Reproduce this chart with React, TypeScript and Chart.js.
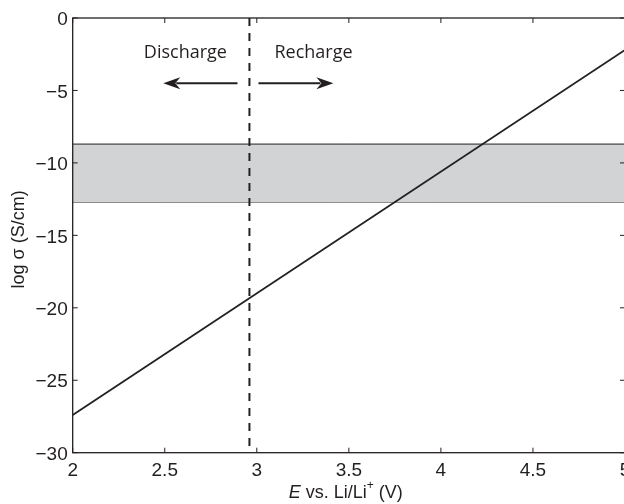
import React, { useEffect, useRef } from 'react';
import { Chart, registerables } from 'chart.js';

Chart.register(...registerables);

// ---- data ----
const xTicks = [2, 2.5, 3, 3.5, 4, 4.5, 5];
const yTicks = [0, -5, -10, -15, -20, -25, -30];
const lineE = [2, 5];
const lineLogSigma = [-27.4, -2.2];
const bandE = [2, 5];
const bandUpper = [-8.7, -8.7];
const bandLower = [-12.7, -12.7];
const dividerE = [2.96, 2.96];
const dividerLogSigma = [0, -30];
const labelTexts = ['Discharge', 'Recharge'];
const labelE = [2.612, 3.308];
const labelLogSigma = [-2.42, -2.42];
const arrowFromE = [2.895, 3.009];
const arrowToE = [2.492, 3.416];
const arrowLogSigma = [-4.5, -4.5];

const INK = '#231f20';
const TICK_FONT = '"Liberation Sans", Arial, Helvetica, sans-serif';
const NOTE_FONT = '"Open Sans", "Noto Sans", sans-serif';

const fmt = (v: number) => (v < 0 ? '\u2212' + Math.abs(v) : String(v));

const decorPlugin = {
  id: 'decor',
  afterDraw(chart: any) {
    const { ctx, chartArea: ca } = chart;
    const xs = chart.scales.x;
    const ys = chart.scales.y;
    ctx.save();
    // frame
    ctx.strokeStyle = INK;
    ctx.lineWidth = 1.3;
    ctx.strokeRect(ca.left, ca.top, ca.right - ca.left, ca.bottom - ca.top);
    // inward ticks
    const tl = 5;
    ctx.lineWidth = 1;
    ctx.beginPath();
    xTicks.forEach((v) => {
      const px = xs.getPixelForValue(v);
      ctx.moveTo(px, ca.bottom);
      ctx.lineTo(px, ca.bottom - tl);
      ctx.moveTo(px, ca.top);
      ctx.lineTo(px, ca.top + tl);
    });
    yTicks.forEach((v) => {
      const py = ys.getPixelForValue(v);
      ctx.moveTo(ca.left, py);
      ctx.lineTo(ca.left + tl, py);
      ctx.moveTo(ca.right, py);
      ctx.lineTo(ca.right - tl, py);
    });
    ctx.stroke();

    // annotation labels
    ctx.fillStyle = INK;
    ctx.font = `18px ${NOTE_FONT}`;
    ctx.textAlign = 'center';
    ctx.textBaseline = 'middle';
    labelTexts.forEach((t, i) => {
      ctx.fillText(t, xs.getPixelForValue(labelE[i]), ys.getPixelForValue(labelLogSigma[i]));
    });

    // arrows
    arrowFromE.forEach((fe, i) => {
      const x0 = xs.getPixelForValue(fe);
      const x1 = xs.getPixelForValue(arrowToE[i]);
      const y = ys.getPixelForValue(arrowLogSigma[i]);
      const dir = x1 > x0 ? 1 : -1;
      const hl = 17;
      const hw = 6;
      ctx.lineWidth = 2;
      ctx.beginPath();
      ctx.moveTo(x0, y);
      ctx.lineTo(x1 - dir * (hl - 4), y);
      ctx.stroke();
      ctx.beginPath();
      ctx.moveTo(x1, y);
      ctx.lineTo(x1 - dir * hl, y - hw);
      ctx.lineTo(x1 - dir * (hl - 5), y);
      ctx.lineTo(x1 - dir * hl, y + hw);
      ctx.closePath();
      ctx.fill();
    });

    // y axis title
    ctx.save();
    ctx.translate(19, (ca.top + ca.bottom) / 2 + 4);
    ctx.rotate(-Math.PI / 2);
    ctx.font = `18px ${TICK_FONT}`;
    ctx.textAlign = 'center';
    ctx.textBaseline = 'middle';
    ctx.fillText('log \u03c3 (S/cm)', 0, 0);
    ctx.restore();

    // x axis title with italic E and superscript +
    const parts = [
      { t: 'E', f: `italic 18px ${TICK_FONT}`, dy: 0 },
      { t: ' vs. Li/Li', f: `18px ${TICK_FONT}`, dy: 0 },
      { t: '+', f: `12px ${TICK_FONT}`, dy: -7 },
      { t: ' (V)', f: `18px ${TICK_FONT}`, dy: 0 },
    ];
    let total = 0;
    const widths = parts.map((p) => {
      ctx.font = p.f;
      const w = ctx.measureText(p.t).width;
      total += w;
      return w;
    });
    let cx = (ca.left + ca.right) / 2 - total / 2 - 3;
    const ty = 493;
    ctx.textAlign = 'left';
    ctx.textBaseline = 'middle';
    parts.forEach((p, i) => {
      ctx.font = p.f;
      ctx.fillText(p.t, cx, ty + p.dy);
      cx += widths[i];
    });
    ctx.restore();
  },
};

export default function App() {
  const ref = useRef<HTMLCanvasElement | null>(null);
  useEffect(() => {
    if (!ref.current) return;
    const toPts = (xs: number[], ys: number[]) => xs.map((x, i) => ({ x, y: ys[i] }));
    const chart = new Chart(ref.current, {
      type: 'line',
      data: {
        datasets: [
          {
            data: toPts(lineE, lineLogSigma),
            borderColor: INK,
            borderWidth: 1.8,
            pointRadius: 0,
            fill: false,
            order: 0,
          },
          {
            data: toPts(dividerE, dividerLogSigma),
            borderColor: INK,
            borderWidth: 2,
            borderDash: [8, 7],
            pointRadius: 0,
            fill: false,
            order: 1,
          },
          {
            data: toPts(bandE, bandUpper),
            borderColor: INK,
            borderWidth: 1,
            backgroundColor: '#d1d3d4',
            pointRadius: 0,
            fill: '+1',
            order: 2,
          },
          {
            data: toPts(bandE, bandLower),
            borderColor: INK,
            borderWidth: 1,
            pointRadius: 0,
            fill: false,
            order: 3,
          },
        ],
      },
      options: {
        animation: false,
        responsive: true,
        maintainAspectRatio: false,
        layout: { padding: { top: 18, right: 15, left: 0, bottom: 0 } },
        plugins: { legend: { display: false }, tooltip: { enabled: false } },
        scales: {
          x: {
            type: 'linear',
            min: 2,
            max: 5,
            grid: { display: false, drawTicks: false },
            border: { display: false },
            afterBuildTicks: (s: any) => {
              s.ticks = xTicks.map((v) => ({ value: v }));
            },
            afterFit: (s: any) => {
              s.height = 51.3;
            },
            ticks: {
              autoSkip: false,
              maxRotation: 0,
              padding: 7,
              color: INK,
              font: { size: 19, family: TICK_FONT },
              callback: (v: any) => String(v),
            },
          },
          y: {
            type: 'linear',
            min: -30,
            max: 0,
            grid: { display: false, drawTicks: false },
            border: { display: false },
            afterBuildTicks: (s: any) => {
              s.ticks = yTicks.map((v) => ({ value: v }));
            },
            afterFit: (s: any) => {
              s.width = 72.7;
            },
            ticks: {
              autoSkip: false,
              padding: 5,
              labelOffset: 2,
              color: INK,
              font: { size: 19, family: TICK_FONT },
              callback: (v: any) => fmt(Number(v)),
            },
          },
        },
      },
      plugins: [decorPlugin],
    });
    return () => chart.destroy();
  }, []);

  return (
    <div style={{ position: 'fixed', left: 0, top: 0, width: 624, height: 504, overflow: 'hidden', background: '#fff' }}>
      <div style={{ position: 'absolute', left: 0, top: 0, width: 640, height: 504 }}>
        <canvas ref={ref} />
      </div>
    </div>
  );
}
